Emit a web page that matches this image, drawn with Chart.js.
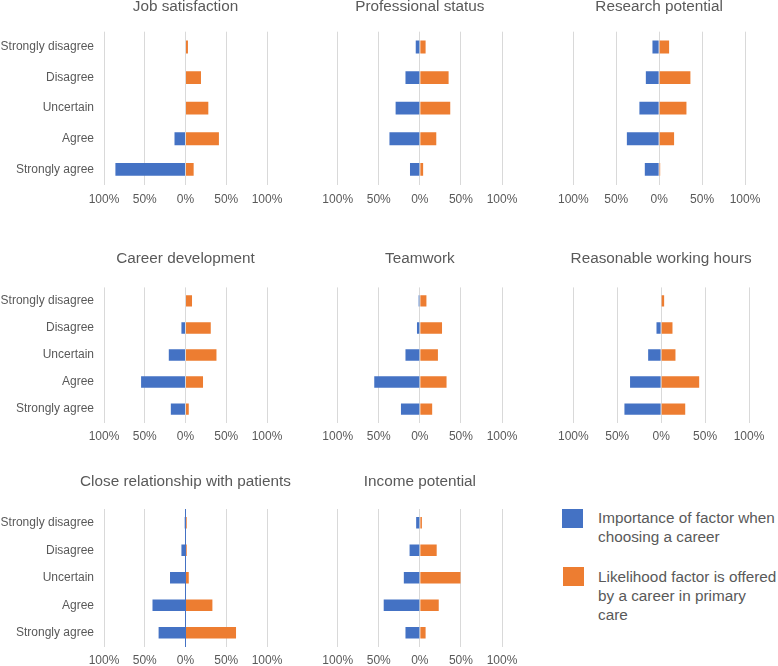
<!DOCTYPE html>
<html>
<head>
<meta charset="utf-8">
<title>Career factors</title>
<script src="https://cdn.jsdelivr.net/npm/chart.js@4.4.0/dist/chart.umd.min.js"></script>
<style>
  html, body { margin: 0; padding: 0; background: #fff; overflow: hidden; }
  body { position: relative; width: 778px; height: 666px; font-family: "Liberation Sans", Arial, sans-serif; }
  canvas { position: absolute; }
  .swatch { position: absolute; width: 21px; height: 19px; }
  .legend-text { position: absolute; left: 598px; font-size: 15.3px; line-height: 19px; color: #595959; white-space: nowrap; }
</style>
</head>
<body>

<div class="swatch" style="left:562px; top:509px; background:#4472C4;"></div>
<div class="legend-text" style="top:508px;">Importance of factor when<br>choosing a career</div>
<div class="swatch" style="left:563px; top:567px; background:#ED7D31;"></div>
<div class="legend-text" style="top:567px;">Likelihood factor is offered<br>by a career in primary<br>care</div>

<script>
// ===================================
// DATA
// ===================================

const categories = ['Strongly disagree', 'Disagree', 'Uncertain', 'Agree', 'Strongly agree'];
const tickValues = [-100, -50, 0, 50, 100];
const seriesNames = ['Importance of factor when choosing a career', 'Likelihood factor is offered by a career in primary care'];

// percentages (importance drawn to the left)
const jobImportance = [0, 0, 0, 13.5, 86];
const jobLikelihood = [3, 19, 28, 41, 10];
const statusImportance = [5, 17.5, 29.5, 37, 12];
const statusLikelihood = [7, 35, 37, 20, 4];
const researchImportance = [7.8, 15.5, 23, 37.6, 16.7];
const researchLikelihood = [11.6, 36.4, 31.8, 17.4, 1.2];
const careerImportance = [0, 5, 20.5, 54.5, 18];
const careerLikelihood = [8, 31, 38, 21.5, 4];
const teamworkImportance = [1.5, 3.5, 17.5, 55.5, 23];
const teamworkLikelihood = [8, 27, 22, 32.5, 15];
const hoursImportance = [0, 5.3, 14.8, 35.4, 41.8];
const hoursLikelihood = [3.4, 12.9, 16.3, 43.3, 27.4];
const patientsImportance = [1, 5, 19, 40.5, 33];
const patientsLikelihood = [1.5, 1.5, 4, 33, 62];
const incomeImportance = [4.5, 12.5, 19.5, 44, 17.5];
const incomeLikelihood = [2.5, 20.5, 49.5, 23, 7];

const panelTitles = ['Job satisfaction', 'Professional status', 'Research potential',
  'Career development', 'Teamwork', 'Reasonable working hours',
  'Close relationship with patients', 'Income potential'];
const importanceSets = [jobImportance, statusImportance, researchImportance, careerImportance,
  teamworkImportance, hoursImportance, patientsImportance, incomeImportance];
const likelihoodSets = [jobLikelihood, statusLikelihood, researchLikelihood, careerLikelihood,
  teamworkLikelihood, hoursLikelihood, patientsLikelihood, incomeLikelihood];

// ===================================
// LAYOUT
// ===================================

const BLUE = '#4472C4';
const ORANGE = '#ED7D31';
const TEXT = '#595959';
const GRID = '#D9D9D9';
const FONT = '"Liberation Sans", Arial, sans-serif';
const RIGHT_PAD = 40;

// rows: canvas top, space above plot, tick padding, plot bottom (page y)
const rows = [
  { top: -2, plotTop: 31.7, tickPad: 8, plotBottom: 185 },
  { top: 250, plotTop: 287.4, tickPad: 6.5, plotBottom: 423 },
  { top: 473, plotTop: 509, tickPad: 6.5, plotBottom: 647 }
];
// plot area left / right for each panel
const plotLeft = [104, 337.7, 573.3, 104, 337.7, 573.3, 104, 337.7];
const plotRight = [266.7, 502.3, 745, 266.7, 502.3, 749.3, 266.7, 502.3];

// title drawn centred over the plot area, in the space kept by layout.padding.top
const panelTitlePlugin = {
  id: 'panelTitle',
  afterDraw(chart, args, opts) {
    const { ctx, chartArea } = chart;
    ctx.save();
    ctx.font = 'normal 15.3px ' + FONT;
    ctx.fillStyle = TEXT;
    ctx.textAlign = 'center';
    ctx.textBaseline = 'middle';
    ctx.fillText(opts.text, (chartArea.left + chartArea.right) / 2, opts.y);
    ctx.restore();
  }
};

function makePanel(i) {
  const row = rows[Math.floor(i / 3)];
  const col = i % 3;
  const left = col === 0 ? 0 : Math.round(plotLeft[i] - 30);
  const yWidth = plotLeft[i] - left;
  const width = Math.round(plotRight[i] + RIGHT_PAD - left);
  const height = Math.round(row.plotBottom - row.top + 2 * row.tickPad + 14.4);

  const canvas = document.createElement('canvas');
  canvas.width = width;
  canvas.height = height;
  canvas.style.left = left + 'px';
  canvas.style.top = row.top + 'px';
  document.body.appendChild(canvas);

  const zeroLineBlue = i === 6;

  return new Chart(canvas, {
    type: 'bar',
    data: {
      labels: categories,
      datasets: [{
        label: seriesNames[0],
        data: importanceSets[i].map(v => -v),
        backgroundColor: BLUE,
        borderWidth: 0
      }, {
        label: seriesNames[1],
        data: likelihoodSets[i],
        backgroundColor: ORANGE,
        borderWidth: 0
      }]
    },
    plugins: [panelTitlePlugin],
    options: {
      indexAxis: 'y',
      responsive: false,
      animation: false,
      layout: { padding: { top: row.plotTop - row.top, right: RIGHT_PAD, left: 0, bottom: 0 } },
      barPercentage: 0.42,
      categoryPercentage: 1,
      plugins: {
        legend: { display: false },
        tooltip: { enabled: false },
        title: { display: false },
        panelTitle: { text: panelTitles[i], y: 9 }
      },
      scales: {
        x: {
          stacked: true,
          min: -100,
          max: 100,
          afterBuildTicks: s => { s.ticks = tickValues.map(v => ({ value: v })); },
          grid: {
            drawTicks: false,
            color: ctx => (zeroLineBlue && ctx.tick && ctx.tick.value === 0) ? BLUE : GRID
          },
          border: { display: false },
          ticks: {
            padding: row.tickPad,
            color: TEXT,
            font: { family: FONT, size: 12 },
            maxRotation: 0,
            callback: v => Math.abs(v) + '%'
          }
        },
        y: {
          stacked: true,
          grid: { display: false, drawTicks: false },
          border: { display: false },
          afterFit: s => { s.width = yWidth; },
          ticks: {
            display: col === 0,
            padding: 10,
            color: TEXT,
            font: { family: FONT, size: 12 }
          }
        }
      }
    }
  });
}

panelTitles.forEach((t, i) => makePanel(i));
</script>
</body>
</html>
